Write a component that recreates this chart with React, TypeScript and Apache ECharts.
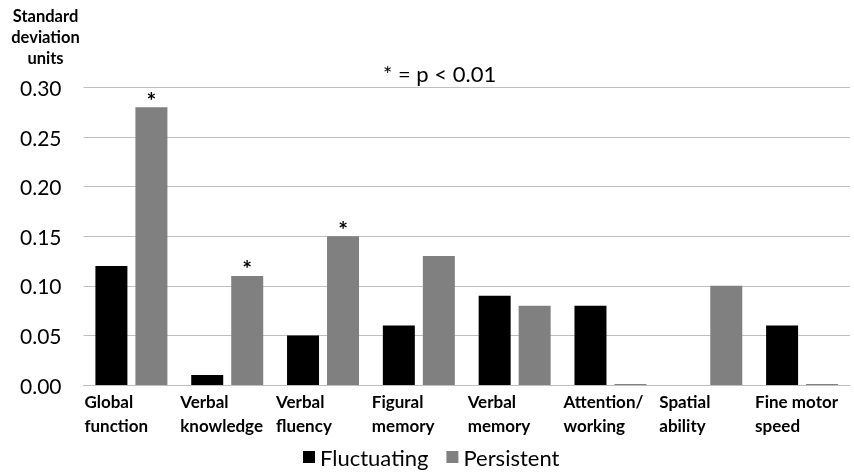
import React, { useEffect, useRef } from "react";
import * as echarts from "echarts";

const categories = [
  "Global\nfunction",
  "Verbal\nknowledge",
  "Verbal\nfluency",
  "Figural\nmemory",
  "Verbal\nmemory",
  "Attention/\nworking",
  "Spatial\nability",
  "Fine motor\nspeed",
];
const fluctuating: (number | null)[] = [0.12, 0.01, 0.05, 0.06, 0.09, 0.08, null, 0.06];
const persistent: number[] = [0.28, 0.11, 0.15, 0.13, 0.08, 0.0, 0.1, 0.0];
const significant: boolean[] = [true, true, true, false, false, false, false, false];
const seriesNames = ["Fluctuating", "Persistent"];
const yTicks = { min: 0, max: 0.3, interval: 0.05 };

const FONT = "Lato, 'Open Sans', sans-serif";

export default function App() {
  const ref = useRef<HTMLDivElement>(null);
  useEffect(() => {
    if (!ref.current) return;
    const chart = echarts.init(ref.current, undefined, { renderer: "svg" });
    chart.setOption({
      animation: false,
      textStyle: { fontFamily: FONT, color: "#000" },
      title: {
        text: "* = p < 0.01",
        left: 378,
        top: 57,
        textStyle: { fontFamily: FONT, fontSize: 22, fontWeight: "normal", color: "#000" },
      },
      legend: {
        data: seriesNames,
        left: 298,
        top: 441,
        icon: "rect",
        itemWidth: 12,
        itemHeight: 12,
        itemGap: 18,
        textStyle: { fontFamily: FONT, fontSize: 22, color: "#000" },
      },
      grid: { left: 83.5, right: 2.5, top: 87.5, bottom: 87, containLabel: false },
      xAxis: {
        type: "category",
        data: categories,
        axisLine: { show: true, lineStyle: { color: "#bfbfbf", width: 1 } },
        axisTick: { show: false },
        axisLabel: {
          interval: 0,
          margin: 4,
          formatter: (v: string) => v.split("\n").map((l) => `{a|${l}}`).join("\n"),
          rich: {
            a: {
              width: 96,
              align: "left",
              fontFamily: FONT,
              fontSize: 17,
              fontWeight: "bold",
              lineHeight: 24,
              color: "#000",
              padding: [0, 0, 0, 2],
            },
          },
        },
      },
      yAxis: {
        type: "value",
        min: yTicks.min,
        max: yTicks.max,
        interval: yTicks.interval,
        name: "{a|Standard}\n{a|deviation}\n{a|units}",
        nameLocation: "end",
        nameGap: 19,
        nameTextStyle: {
          align: "right",
          rich: {
            a: {
              width: 76,
              align: "center",
              fontFamily: FONT,
              fontSize: 16.5,
              fontWeight: "bold",
              lineHeight: 21,
              color: "#000",
            },
          },
        },
        axisLine: { show: false },
        axisTick: { show: false },
        splitLine: { lineStyle: { color: "#bfbfbf", width: 1 } },
        axisLabel: {
          margin: 22,
          fontFamily: FONT,
          fontSize: 21,
          color: "#000",
          formatter: (v: number) => v.toFixed(2),
        },
      },
      series: [
        {
          name: seriesNames[0],
          type: "bar",
          data: fluctuating,
          barWidth: 32,
          barGap: "25%",
          itemStyle: { color: "#000000" },
        },
        {
          name: seriesNames[1],
          type: "bar",
          data: persistent.map((v, i) => ({
            value: v,
            label: {
              show: significant[i],
              position: "top",
              distance: -4,
              formatter: "*",
              fontFamily: FONT,
              fontSize: 23,
              fontWeight: "bold",
              color: "#000",
            },
          })),
          barWidth: 32,
          barMinHeight: 1,
          itemStyle: { color: "#808080" },
        },
      ],
    });
    return () => chart.dispose();
  }, []);
  return (
    <div
      ref={ref}
      style={{ position: "fixed", left: 0, top: 0, width: 854, height: 472 }}
    />
  );
}
